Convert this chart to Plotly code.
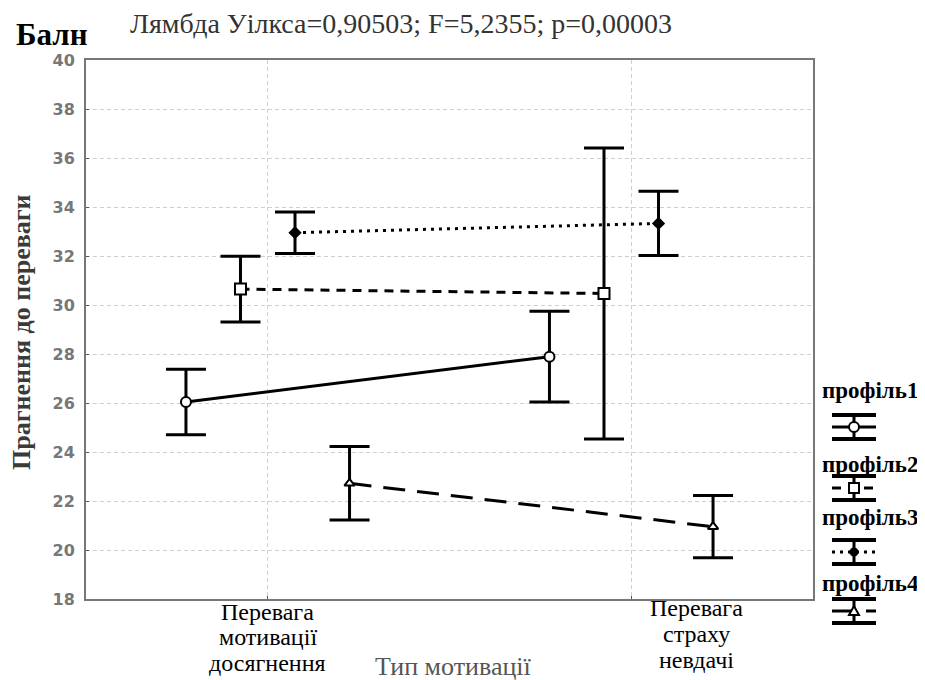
import plotly.graph_objects as go

categories = ["Перевага мотивації досягнення", "Перевага страху невдачі"]
cat_pos = [1, 2]
profiles = ["профіль1", "профіль2", "профіль3", "профіль4"]
means = {
    "профіль1": [26.04, 27.89],
    "профіль2": [30.65, 30.47],
    "профіль3": [32.95, 33.33],
    "профіль4": [22.72, 20.95],
}
errors = {
    "профіль1": [1.34, 1.85],
    "профіль2": [1.34, 5.94],
    "профіль3": [0.85, 1.31],
    "профіль4": [1.50, 1.27],
}
y_ticks = [18, 20, 22, 24, 26, 28, 30, 32, 34, 36, 38, 40]

offsets = [-0.225, -0.075, 0.075, 0.225]
styles = [
    dict(dash="solid", symbol="circle", size=10, fill="white"),
    dict(dash="9px,7px", symbol="square", size=11, fill="white"),
    dict(dash="3px,5px", symbol="diamond", size=8, fill="black"),
    dict(dash="22px,12px", symbol="triangle-up", size=9, fill="white"),
]

fig = go.Figure()
for p, off, st in zip(profiles, offsets, styles):
    fig.add_trace(go.Scatter(
        x=[c + off for c in cat_pos], y=means[p], mode="lines+markers",
        name=p, showlegend=False,
        line=dict(color="black", width=3, dash=st["dash"]),
        marker=dict(symbol=st["symbol"], size=st["size"], color=st["fill"],
                    line=dict(color="black", width=2)),
        error_y=dict(type="data", array=errors[p], visible=True,
                     color="black", thickness=3, width=20),
    ))

serif = "'Liberation Serif', 'Times New Roman', 'DejaVu Serif', serif"
PAGE_OFF = 8  # body margin of the html page
FW, FH = 925 - PAGE_OFF, 680 - PAGE_OFF
W0, W1, H0, H1 = 86, 813, 60, 599  # plot area in screen pixels


def px(xp):
    return (xp - W0) / (W1 - W0)


def py(yp):
    return (H1 - yp) / (H1 - H0)


ann = []
ann.append(dict(text="<b>Балн</b>", x=px(14), y=py(34), xref="paper", yref="paper",
                xanchor="left", yanchor="middle", showarrow=False,
                font=dict(family=serif, size=31, color="black")))
ann.append(dict(text="Лямбда Уілкса=0,90503; F=5,2355; p=0,00003", x=px(128), y=py(24),
                xref="paper", yref="paper", xanchor="left", yanchor="middle",
                showarrow=False, font=dict(family=serif, size=28, color="#333")))
ann.append(dict(text="<b>Прагнення до переваги</b>", x=px(21), y=py(332), xref="paper",
                yref="paper", xanchor="center", yanchor="middle", textangle=-90,
                showarrow=False, font=dict(family=serif, size=26, color="#3a3a3a")))
ann.append(dict(text="Тип мотивації", x=px(453), y=py(666), xref="paper", yref="paper",
                xanchor="center", yanchor="middle",
                showarrow=False, font=dict(family=serif, size=26, color="#555")))

label_lines = [["Перевага", "мотивації", "досягнення"], ["Перевага", "страху", "невдачі"]]
label_x = [1.0, 2.18]
label_y = [[612, 637, 663], [608, 634, 660]]
for lines, lx, ly in zip(label_lines, label_x, label_y):
    for t, yy in zip(lines, ly):
        ann.append(dict(text=t, x=lx, y=py(yy), xref="x", yref="paper",
                        xanchor="center", yanchor="middle",
                        showarrow=False, font=dict(family=serif, size=24, color="black")))

legend_text_y = [390, 464, 518, 583]
legend_icon_y = [427, 488, 552, 611]
shapes = []
for p, st, ty, iy in zip(profiles, styles, legend_text_y, legend_icon_y):
    ann.append(dict(text="<b>" + p + "</b>", x=px(870), y=py(ty), xref="paper", yref="paper",
                    xanchor="center", yanchor="middle",
                    showarrow=False, font=dict(family=serif, size=23, color="black")))
    cx = 854
    for dy in (-12, 12):
        shapes.append(dict(type="line", xref="paper", yref="paper",
                           x0=px(cx - 22), x1=px(cx + 22), y0=py(iy + dy), y1=py(iy + dy),
                           line=dict(color="black", width=4)))
    shapes.append(dict(type="line", xref="paper", yref="paper",
                       x0=px(cx - 22), x1=px(cx + 22), y0=py(iy), y1=py(iy),
                       line=dict(color="black", width=3, dash=st["dash"])))
    shapes.append(dict(type="line", xref="paper", yref="paper",
                       x0=px(cx), x1=px(cx), y0=py(iy - 12), y1=py(iy + 12),
                       line=dict(color="black", width=3)))
    r = 5
    if st["symbol"] == "square":
        shapes.append(dict(type="rect", xref="paper", yref="paper",
                           x0=px(cx - r), x1=px(cx + r), y0=py(iy - r), y1=py(iy + r),
                           fillcolor="white", line=dict(color="black", width=2)))
    elif st["symbol"] == "triangle-up":
        path = "M {} {} L {} {} L {} {} Z".format(
            px(cx - r), py(iy + r - 1), px(cx + r), py(iy + r - 1), px(cx), py(iy - r))
        shapes.append(dict(type="path", xref="paper", yref="paper", path=path,
                           fillcolor="white", line=dict(color="black", width=2)))
    else:
        rr = r if st["fill"] == "white" else 3.5
        shapes.append(dict(type="circle", xref="paper", yref="paper",
                           x0=px(cx - rr), x1=px(cx + rr), y0=py(iy - rr), y1=py(iy + rr),
                           fillcolor=st["fill"], line=dict(color="black", width=2)))

fig.update_layout(
    width=FW, height=FH,
    margin=dict(l=W0 - PAGE_OFF, r=FW - (W1 - PAGE_OFF), t=H0 - PAGE_OFF,
                b=FH - (H1 - PAGE_OFF)),
    paper_bgcolor="white", plot_bgcolor="white",
    annotations=ann, shapes=shapes,
    xaxis=dict(range=[0.5, 2.5], tickvals=cat_pos, showticklabels=False,
               showgrid=True, gridcolor="#cfcfcf", griddash="4px,3px", gridwidth=1,
               showline=True, linecolor="#777", linewidth=2, mirror=True,
               ticks="inside", ticklen=3, tickcolor="#555", zeroline=False),
    yaxis=dict(range=[18, 40], tickvals=y_ticks, showgrid=True, gridcolor="#cfcfcf",
               griddash="4px,3px", gridwidth=1, showline=True, linecolor="#777",
               linewidth=2, mirror=True, ticks="inside", ticklen=3, tickcolor="#555",
               zeroline=False, ticklabelstandoff=6,
               tickfont=dict(family="DejaVu Sans", size=16, color="#777", weight="bold")),
)

fig.write_html("out.html")
